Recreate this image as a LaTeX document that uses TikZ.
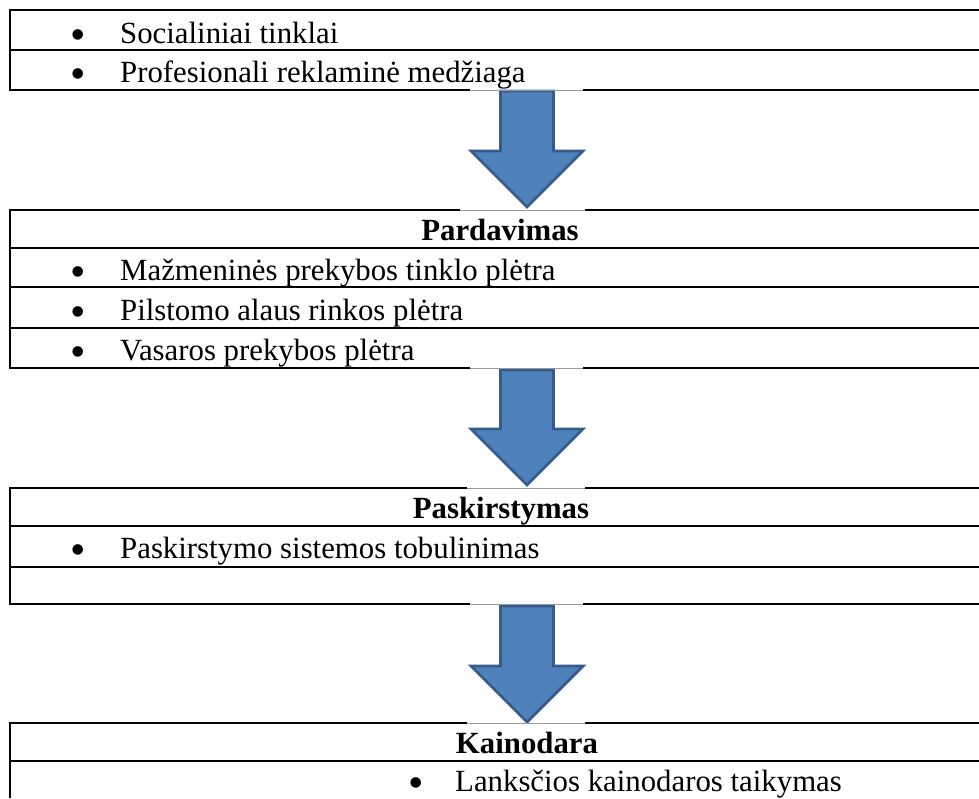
\documentclass[tikz,border=0pt]{standalone}
\usepackage{fontspec}
\setmainfont{Liberation Serif}
\definecolor{arrfill}{HTML}{4F81BD}
\definecolor{arrline}{HTML}{375C8C}
\definecolor{gapline}{HTML}{9A9A9A}
\begin{document}
\begin{tikzpicture}[x=1pt,y=-1pt,
  rule/.style={line width=1.8pt,black},
  gap/.style={line width=0.7pt,gapline},
  cell/.style={anchor=base west,inner sep=0pt,font=\fontsize{30.8}{36}\selectfont},
  bul/.style={anchor=base,inner sep=0pt,yshift=-6pt,font=\fontsize{44}{50}\selectfont},
  head/.style={anchor=base,inner sep=0pt,font=\fontsize{30.8}{36}\selectfont\bfseries},
  blockarrow/.style={fill=arrfill,draw=arrline,line width=2.8pt,line join=miter}]
\useasboundingbox (0,0) rectangle (979,798);

% ---------- table 1 ----------
\draw[rule] (10,10) -- (979,10);
\draw[rule] (10,50) -- (979,50);
\draw[rule] (10,9.1) -- (10,90);
\draw[rule] (9.1,90) -- (470,90);
\draw[rule] (583,90) -- (979,90);
\node[bul] (b11) at (78,43) {•};
\node[cell] (t11) at (120,43) {Socialiniai tinklai};
\node[bul] (b12) at (78,82) {•};
\node[cell] (t12) at (120,82) {Profesionali reklaminė medžiaga};

% ---------- arrow 1 ----------
\draw[blockarrow] (500.5,91) -- (553.5,91) -- (553.5,151) -- (583,151) -- (527,207) -- (471,151) -- (500.5,151) -- cycle;
\draw[gap] (470,90) -- (583,90);

% ---------- table 2 ----------
\draw[rule] (9.1,210) -- (460,210);
\draw[rule] (585,210) -- (979,210);
\draw[gap] (460,210) -- (585,210);
\draw[rule] (10,248) -- (979,248);
\draw[rule] (10,287) -- (979,287);
\draw[rule] (10,328) -- (979,328);
\draw[rule] (10,210) -- (10,368);
\draw[rule] (9.1,368) -- (470,368);
\draw[rule] (583,368) -- (979,368);
\node[head] (h2) at (500,240) {Pardavimas};
\node[bul] (b21) at (78,280) {•};
\node[cell] (t21) at (120,280) {Mažmeninės prekybos tinklo plėtra};
\node[bul] (b22) at (78,320) {•};
\node[cell] (t22) at (120,320) {Pilstomo alaus rinkos plėtra};
\node[bul] (b23) at (78,360) {•};
\node[cell] (t23) at (120,360) {Vasaros prekybos plėtra};

% ---------- arrow 2 ----------
\draw[blockarrow] (500.5,370) -- (553.5,370) -- (553.5,429) -- (583,429) -- (527,485) -- (471,429) -- (500.5,429) -- cycle;
\draw[gap] (470,368) -- (583,368);

% ---------- table 3 ----------
\draw[rule] (9.1,488) -- (467,488);
\draw[rule] (585,488) -- (979,488);
\draw[gap] (467,488) -- (585,488);
\draw[rule] (10,526) -- (979,526);
\draw[rule] (10,567) -- (979,567);
\draw[rule] (10,488) -- (10,604);
\draw[rule] (9.1,604) -- (470,604);
\draw[rule] (583,604) -- (979,604);
\node[head] (h3) at (501,518) {Paskirstymas};
\node[bul] (b31) at (78,558) {•};
\node[cell] (t31) at (120,558) {Paskirstymo sistemos tobulinimas};

% ---------- arrow 3 ----------
\draw[blockarrow] (500.5,606) -- (553.5,606) -- (553.5,666) -- (583,666) -- (527,722) -- (471,666) -- (500.5,666) -- cycle;
\draw[gap] (470,604) -- (583,604);

% ---------- table 4 ----------
\draw[rule] (9.1,723) -- (467,723);
\draw[rule] (585,723) -- (979,723);
\draw[gap] (467,723) -- (585,723);
\draw[rule] (10,761) -- (979,761);
\draw[rule] (10,723) -- (10,798);
\node[head] (h4) at (527,753) {Kainodara};
\node[bul] (b41) at (416,791) {•};
\node[cell] (t41) at (455,791) {Lanksčios kainodaros taikymas};
\end{tikzpicture}
\end{document}
